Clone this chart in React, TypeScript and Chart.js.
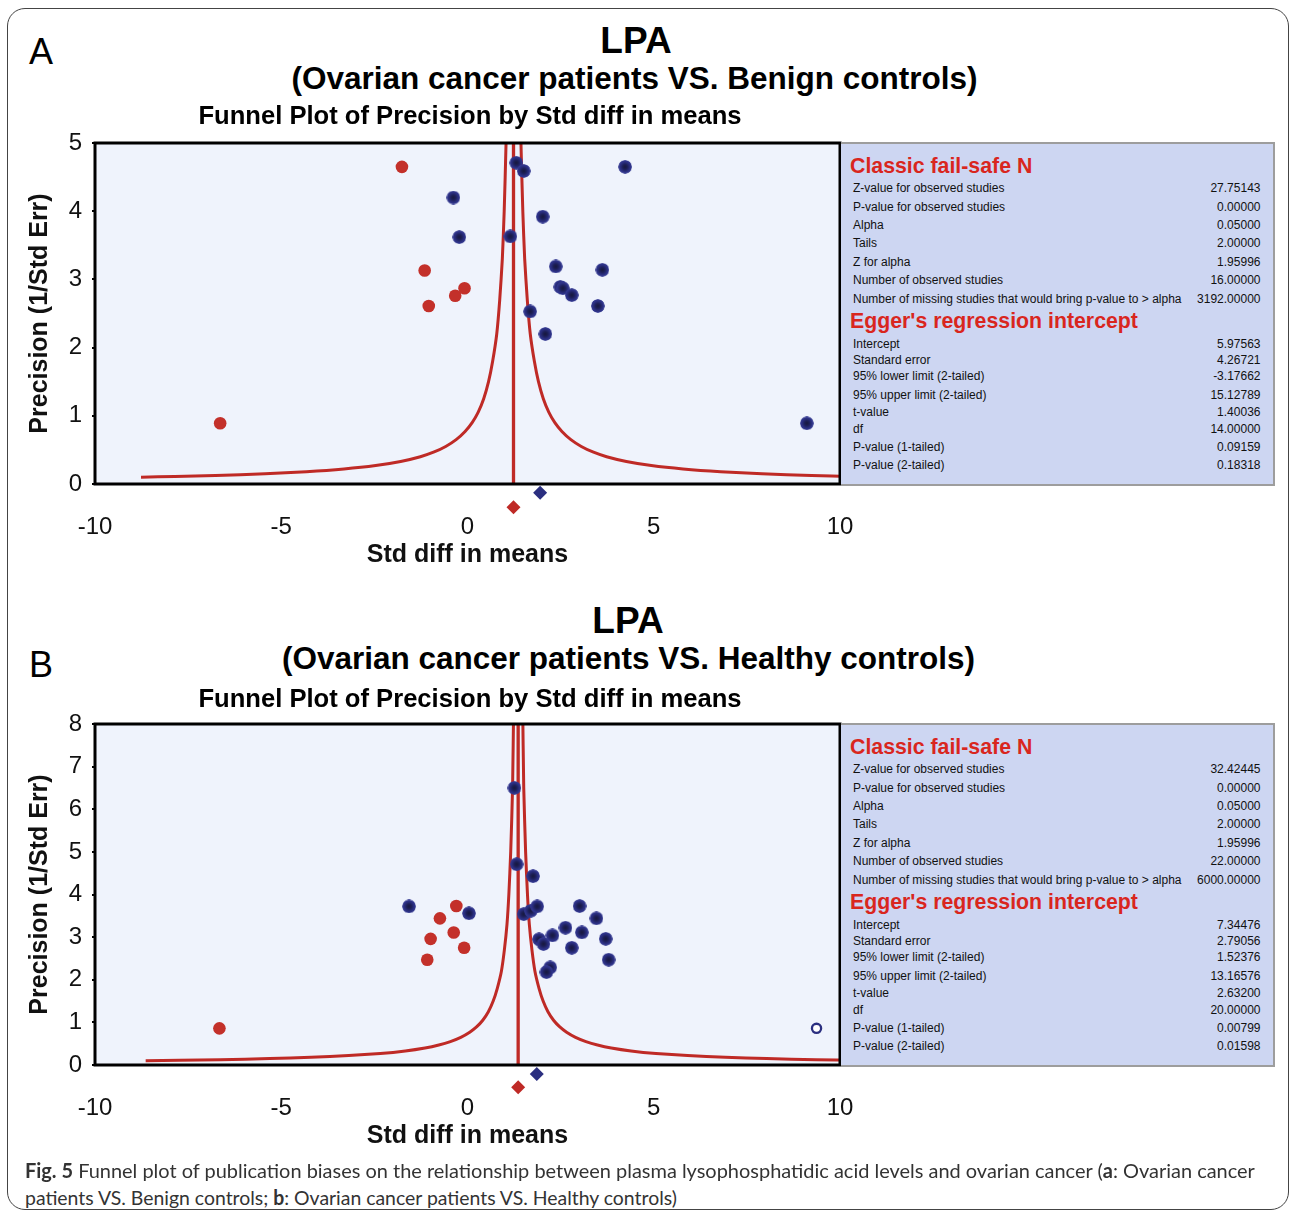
import React, { useEffect, useLayoutEffect, useRef } from 'react';
import { Chart, registerables } from 'chart.js';

Chart.register(...registerables);

// ------------------------------------------------------------------ data
const mainTitle = 'LPA';
const subtitleA = '(Ovarian cancer patients VS. Benign controls)';
const subtitleB = '(Ovarian cancer patients VS. Healthy controls)';
const plotTitle = 'Funnel Plot of Precision by Std diff in means';
const xAxisTitle = 'Std diff in means';
const yAxisTitle = 'Precision (1/Std Err)';

// Panel A: observed studies (blue) and imputed studies (red)
const obsXA = [-0.38, -0.22, 1.31, 1.51, 4.23, 2.02, 1.15, 2.37, 3.62, 2.49, 2.56, 2.8, 3.5, 1.68, 2.09, 9.11];
const obsYA = [4.2, 3.62, 4.71, 4.59, 4.65, 3.92, 3.63, 3.19, 3.14, 2.89, 2.87, 2.77, 2.61, 2.53, 2.2, 0.89];
const impXA = [-1.76, -1.15, -1.04, -0.33, -0.08, -6.64];
const impYA = [4.65, 3.13, 2.61, 2.76, 2.87, 0.89];
const adjMeanA = 1.235;
const obsMeanA = 1.95;
const obsDiamondYA = -0.13;
const adjDiamondYA = -0.34;
const yMaxA = 5;

// Panel B
const obsXB = [-1.57, 0.04, 1.26, 1.32, 1.76, 1.51, 1.7, 1.87, 3.01, 3.46, 2.63, 3.07, 1.92, 2.04, 2.28, 3.71, 2.8, 3.79, 2.22, 2.12];
const obsYB = [3.72, 3.56, 6.5, 4.71, 4.43, 3.54, 3.62, 3.72, 3.73, 3.44, 3.22, 3.11, 2.95, 2.84, 3.04, 2.96, 2.75, 2.47, 2.29, 2.18];
const openXB = [9.37];
const openYB = [0.86];
const impXB = [-0.3, -0.74, -0.99, -0.37, -0.09, -1.08, -6.66];
const impYB = [3.73, 3.44, 2.96, 3.11, 2.75, 2.47, 0.86];
const adjMeanB = 1.36;
const obsMeanB = 1.86;
const obsDiamondYB = -0.21;
const adjDiamondYB = -0.52;
const yMaxB = 8;

// Funnel (95% limits): precision and half-width of the funnel
const funnelPrecision = [0.1, 0.11, 0.125, 0.15, 0.18, 0.22, 0.27, 0.33, 0.4, 0.47, 0.55, 0.65, 0.77, 0.9, 1.05, 1.25, 1.5, 1.8, 2.2, 2.7, 3.3, 4, 5, 6.5, 8.5, 10];
const funnelHalfWidth = [10.0, 9.09, 8.0, 6.67, 5.56, 4.55, 3.7, 3.03, 2.5, 2.13, 1.82, 1.54, 1.3, 1.11, 0.95, 0.8, 0.67, 0.56, 0.45, 0.37, 0.3, 0.25, 0.2, 0.15, 0.12, 0.1];

// Stats tables
const failSafeTitle = 'Classic fail-safe N';
const failSafeLabels = [
  'Z-value for observed studies',
  'P-value for observed studies',
  'Alpha',
  'Tails',
  'Z for alpha',
  'Number of observed studies',
  'Number of missing studies that would bring p-value to > alpha',
];
const failSafeValuesA = ['27.75143', '0.00000', '0.05000', '2.00000', '1.95996', '16.00000', '3192.00000'];
const failSafeValuesB = ['32.42445', '0.00000', '0.05000', '2.00000', '1.95996', '22.00000', '6000.00000'];
const eggerTitle = "Egger's regression intercept";
const eggerLabels = [
  'Intercept',
  'Standard error',
  '95% lower limit (2-tailed)',
  '95% upper limit (2-tailed)',
  't-value',
  'df',
  'P-value (1-tailed)',
  'P-value (2-tailed)',
];
const eggerValuesA = ['5.97563', '4.26721', '-3.17662', '15.12789', '1.40036', '14.00000', '0.09159', '0.18318'];
const eggerValuesB = ['7.34476', '2.79056', '1.52376', '13.16576', '2.63200', '20.00000', '0.00799', '0.01598'];

// ------------------------------------------------------------------ style
const FONT = "'Liberation Sans', Arial, Helvetica, sans-serif";
const RED_LINE = '#bf2a26';
const RED_PT = '#c3302a';
const BLUE = '#2b2f80';
const PLOT_BG = '#eff3fc';
const BOX_BG = '#cdd6f2';
const BOX_BORDER = '#9d9d9d';
const HEAD_RED = '#d9261e';

Chart.defaults.font.family = FONT;

function makeBlueDot(): HTMLCanvasElement {
  const c = document.createElement('canvas');
  const s = 14;
  c.width = s;
  c.height = s;
  const ctx = c.getContext('2d')!;
  const g = ctx.createRadialGradient(s / 2, s / 2, 0, s / 2, s / 2, s / 2);
  g.addColorStop(0, '#17183c');
  g.addColorStop(0.35, '#1d1f58');
  g.addColorStop(0.7, '#2b2f82');
  g.addColorStop(0.92, '#343991');
  g.addColorStop(1, 'rgba(52,57,145,0.2)');
  ctx.fillStyle = g;
  ctx.beginPath();
  ctx.arc(s / 2, s / 2, s / 2, 0, Math.PI * 2);
  ctx.fill();
  return c;
}

const framePlugin = {
  id: 'plotFrame',
  beforeDraw(chart: any) {
    const { ctx, chartArea } = chart;
    ctx.save();
    ctx.fillStyle = PLOT_BG;
    ctx.fillRect(chartArea.left, chartArea.top, chartArea.right - chartArea.left, chartArea.bottom - chartArea.top);
    ctx.restore();
  },
  afterDatasetsDraw(chart: any) {
    const { ctx, chartArea } = chart;
    ctx.save();
    ctx.strokeStyle = '#000';
    ctx.lineWidth = 3;
    ctx.strokeRect(chartArea.left, chartArea.top, chartArea.right - chartArea.left, chartArea.bottom - chartArea.top);
    ctx.restore();
  },
};

// Summary diamonds sit below the axis (outside the chart area), so they are
// drawn through the chart's own scales by a small plugin.
const diamondPlugin = {
  id: 'summaryDiamonds',
  afterDraw(chart: any, _args: any, opts: any) {
    const items = (opts && opts.items) || [];
    const { ctx, scales } = chart;
    ctx.save();
    for (const it of items) {
      const px = scales.x.getPixelForValue(it.x);
      const py = scales.y.getPixelForValue(it.y);
      const r = it.r;
      ctx.fillStyle = it.color;
      ctx.beginPath();
      ctx.moveTo(px, py - r);
      ctx.lineTo(px + r, py);
      ctx.lineTo(px, py + r);
      ctx.lineTo(px - r, py);
      ctx.closePath();
      ctx.fill();
    }
    ctx.restore();
  },
};

type PanelProps = {
  top: number;
  yMax: number;
  obsX: number[];
  obsY: number[];
  impX: number[];
  impY: number[];
  openX?: number[];
  openY?: number[];
  adjMean: number;
  obsMean: number;
  obsDiamondY: number;
  adjDiamondY: number;
};

const toPts = (xs: number[], ys: number[]) => xs.map((x, i) => ({ x, y: ys[i] }));

function FunnelChart(p: PanelProps) {
  const ref = useRef<HTMLCanvasElement>(null);
  useEffect(() => {
    if (!ref.current) return;
    const blueDot = makeBlueDot();
    const left = funnelPrecision.map((pr, i) => ({ x: p.adjMean - funnelHalfWidth[i], y: pr }));
    const right = funnelPrecision.map((pr, i) => ({ x: p.adjMean + funnelHalfWidth[i], y: pr }));
    const datasets: any[] = [
      {
        label: 'Observed studies',
        data: toPts(p.obsX, p.obsY),
        pointStyle: blueDot,
        pointRadius: 7,
        order: 0,
      },
      {
        label: 'Imputed studies',
        data: toPts(p.impX, p.impY),
        pointStyle: 'circle',
        pointRadius: 6.3,
        backgroundColor: RED_PT,
        borderWidth: 0,
        order: 0,
      },
    ];
    if (p.openX && p.openY) {
      datasets.push({
        label: 'Observed (open)',
        data: toPts(p.openX, p.openY),
        pointStyle: 'circle',
        pointRadius: 4.6,
        backgroundColor: '#ffffff',
        borderColor: BLUE,
        borderWidth: 2.3,
        order: 0,
      });
    }
    datasets.push(
      {
        label: 'Funnel left',
        data: left,
        showLine: true,
        pointRadius: 0,
        borderColor: RED_LINE,
        borderWidth: 3,
        tension: 0.2,
        order: 1,
      },
      {
        label: 'Funnel right',
        data: right,
        showLine: true,
        pointRadius: 0,
        borderColor: RED_LINE,
        borderWidth: 3,
        tension: 0.2,
        order: 1,
      },
      {
        label: 'Adjusted mean line',
        data: [
          { x: p.adjMean, y: 0 },
          { x: p.adjMean, y: p.yMax },
        ],
        showLine: true,
        pointRadius: 0,
        borderColor: RED_LINE,
        borderWidth: 3.3,
        order: 1,
      }
    );

    const chart = new Chart(ref.current, {
      type: 'scatter',
      data: { datasets },
      plugins: [framePlugin, diamondPlugin],
      options: {
        animation: false,
        responsive: false,
        events: [],
        layout: { padding: { top: 33, right: 20, left: 0, bottom: 0 } },
        plugins: {
          legend: { display: false },
          tooltip: { enabled: false },
          title: { display: false },
          summaryDiamonds: {
            items: [
              { x: p.obsMean, y: p.obsDiamondY, color: BLUE, r: 7 },
              { x: p.adjMean, y: p.adjDiamondY, color: RED_LINE, r: 7 },
            ],
          },
        },
        scales: {
          x: {
            type: 'linear',
            min: -10,
            max: 10,
            ticks: {
              stepSize: 5,
              color: '#111',
              font: { size: 24, family: FONT },
              padding: 2,
              maxRotation: 0,
              autoSkip: false,
            },
            grid: {
              display: true,
              drawOnChartArea: false,
              drawTicks: true,
              tickLength: 27,
              color: 'rgba(0,0,0,0)',
            },
            border: { display: false },
            title: {
              display: true,
              text: xAxisTitle,
              color: '#111',
              font: { size: 25, weight: 'bold', family: FONT, lineHeight: 1 },
              padding: { top: 0, bottom: 12 },
            },
            afterFit: (s: any) => {
              s.height = 96;
            },
          },
          y: {
            type: 'linear',
            min: 0,
            max: p.yMax,
            ticks: {
              stepSize: 1,
              color: '#111',
              font: { size: 24, family: FONT },
              padding: 10,
              autoSkip: false,
            },
            grid: {
              display: true,
              drawOnChartArea: false,
              drawTicks: true,
              tickLength: 3,
              color: '#000',
              lineWidth: 2,
            },
            border: { display: false },
            title: {
              display: true,
              text: yAxisTitle,
              color: '#111',
              font: { size: 25, weight: 'bold', family: FONT, lineHeight: 1 },
              padding: { top: 28, bottom: 0 },
            },
            afterFit: (s: any) => {
              s.width = 95;
            },
          },
        },
      } as any,
    });
    return () => chart.destroy();
  }, []);
  return (
    <canvas
      ref={ref}
      width={860}
      height={470}
      style={{ position: 'absolute', left: 0, top: p.top, width: 860, height: 470 }}
    />
  );
}

function CenterText({ text, cx, cy, size, weight = 'bold' }: { text: string; cx: number; cy: number; size: number; weight?: any }) {
  return (
    <div
      style={{
        position: 'absolute',
        left: cx - 600,
        width: 1200,
        top: cy - size / 2,
        textAlign: 'center',
        fontSize: size,
        lineHeight: `${size}px`,
        fontWeight: weight,
        whiteSpace: 'nowrap',
        color: '#000',
        fontFamily: FONT,
      }}
    >
      {text}
    </div>
  );
}

function FitLine({ children, left, top, width, size, family }: any) {
  const ref = useRef<HTMLSpanElement>(null);
  useLayoutEffect(() => {
    const el = ref.current;
    if (!el) return;
    const fit = () => {
      el.style.transform = 'none';
      const w = el.offsetWidth;
      if (w > 0) el.style.transform = `scaleX(${width / w})`;
    };
    fit();
    if ((document as any).fonts && (document as any).fonts.ready) (document as any).fonts.ready.then(fit);
  }, []);
  return (
    <span
      ref={ref}
      style={{
        position: 'absolute',
        left,
        top,
        display: 'inline-block',
        whiteSpace: 'nowrap',
        transformOrigin: '0 0',
        fontSize: size,
        lineHeight: `${size}px`,
        fontFamily: family,
        color: '#333',
      }}
    >
      {children}
    </span>
  );
}

const fsRowCenters = [47.3, 65.7, 84.2, 102.5, 121, 139.5, 157.8];
const egRowCenters = [202.8, 219.5, 235.2, 254, 271.2, 288, 305.8, 324];

function StatsBox({ top, fsValues, egValues }: { top: number; fsValues: string[]; egValues: string[] }) {
  const rowStyle = (cy: number): React.CSSProperties => ({
    position: 'absolute',
    left: 12,
    right: 12,
    top: cy - 7,
    height: 14,
    fontSize: 12,
    lineHeight: '14px',
    color: '#111',
    whiteSpace: 'nowrap',
  });
  const headStyle = (cy: number): React.CSSProperties => ({
    position: 'absolute',
    left: 9,
    top: cy - 11,
    fontSize: 21.3,
    lineHeight: '22px',
    fontWeight: 'bold',
    color: HEAD_RED,
    whiteSpace: 'nowrap',
  });
  return (
    <div
      style={{
        position: 'absolute',
        left: 841,
        top,
        width: 433.5,
        height: 344,
        boxSizing: 'border-box',
        background: BOX_BG,
        borderTop: `2.7px solid ${BOX_BORDER}`,
        borderRight: `2.7px solid ${BOX_BORDER}`,
        borderBottom: `2.7px solid ${BOX_BORDER}`,
        fontFamily: FONT,
      }}
    >
      <div style={{ position: 'absolute', inset: 0, top: -2.7, left: 0 }}>
        <div style={headStyle(25.5)}>{failSafeTitle}</div>
        {failSafeLabels.map((l, i) => (
          <div key={'f' + i} style={rowStyle(fsRowCenters[i])}>
            <span style={{ position: 'absolute', left: 0 }}>{l}</span>
            <span style={{ position: 'absolute', right: 0 }}>{fsValues[i]}</span>
          </div>
        ))}
        <div style={headStyle(180)}>{eggerTitle}</div>
        {eggerLabels.map((l, i) => (
          <div key={'e' + i} style={rowStyle(egRowCenters[i])}>
            <span style={{ position: 'absolute', left: 0 }}>{l}</span>
            <span style={{ position: 'absolute', right: 0 }}>{egValues[i]}</span>
          </div>
        ))}
      </div>
    </div>
  );
}

export default function App() {
  const captionFont = "'Liberation Sans Narrow', Lato, 'Open Sans', sans-serif";
  return (
    <div
      style={{
        position: 'absolute',
        left: 0,
        top: 0,
        width: 1290,
        height: 1216,
        overflow: 'hidden',
        background: '#fff',
        fontFamily: FONT,
      }}
    >
      <div
        style={{
          position: 'absolute',
          left: 7,
          top: 8,
          width: 1282,
          height: 1202,
          boxSizing: 'border-box',
          border: '1.5px solid #444',
          borderRadius: 18,
        }}
      />

      <FunnelChart
        top={110}
        yMax={yMaxA}
        obsX={obsXA}
        obsY={obsYA}
        impX={impXA}
        impY={impYA}
        adjMean={adjMeanA}
        obsMean={obsMeanA}
        obsDiamondY={obsDiamondYA}
        adjDiamondY={adjDiamondYA}
      />
      <FunnelChart
        top={691}
        yMax={yMaxB}
        obsX={obsXB}
        obsY={obsYB}
        impX={impXB}
        impY={impYB}
        openX={openXB}
        openY={openYB}
        adjMean={adjMeanB}
        obsMean={obsMeanB}
        obsDiamondY={obsDiamondYB}
        adjDiamondY={adjDiamondYB}
      />

      <div style={{ position: 'absolute', left: 29, top: 34, fontSize: 36, lineHeight: '36px', fontFamily: FONT }}>A</div>
      <CenterText text={mainTitle} cx={636} cy={40} size={37} />
      <CenterText text={subtitleA} cx={634.5} cy={78.5} size={31.5} />
      <CenterText text={plotTitle} cx={470} cy={116} size={25.6} />

      <div style={{ position: 'absolute', left: 29, top: 647, fontSize: 36, lineHeight: '36px', fontFamily: FONT }}>B</div>
      <CenterText text={mainTitle} cx={628} cy={620} size={37} />
      <CenterText text={subtitleB} cx={628.5} cy={659} size={31.5} />
      <CenterText text={plotTitle} cx={470} cy={699} size={25.6} />

      <StatsBox top={141.5} fsValues={failSafeValuesA} egValues={eggerValuesA} />
      <StatsBox top={722.5} fsValues={failSafeValuesB} egValues={eggerValuesB} />

      <FitLine left={25} top={1160} width={1230} size={20} family={captionFont}>
        <b>Fig. 5</b> Funnel plot of publication biases on the relationship between plasma lysophosphatidic acid levels and
        ovarian cancer (<b>a</b>: Ovarian cancer
      </FitLine>
      <FitLine left={25} top={1187} width={652} size={20} family={captionFont}>
        patients VS. Benign controls; <b>b</b>: Ovarian cancer patients VS. Healthy controls)
      </FitLine>
    </div>
  );
}
